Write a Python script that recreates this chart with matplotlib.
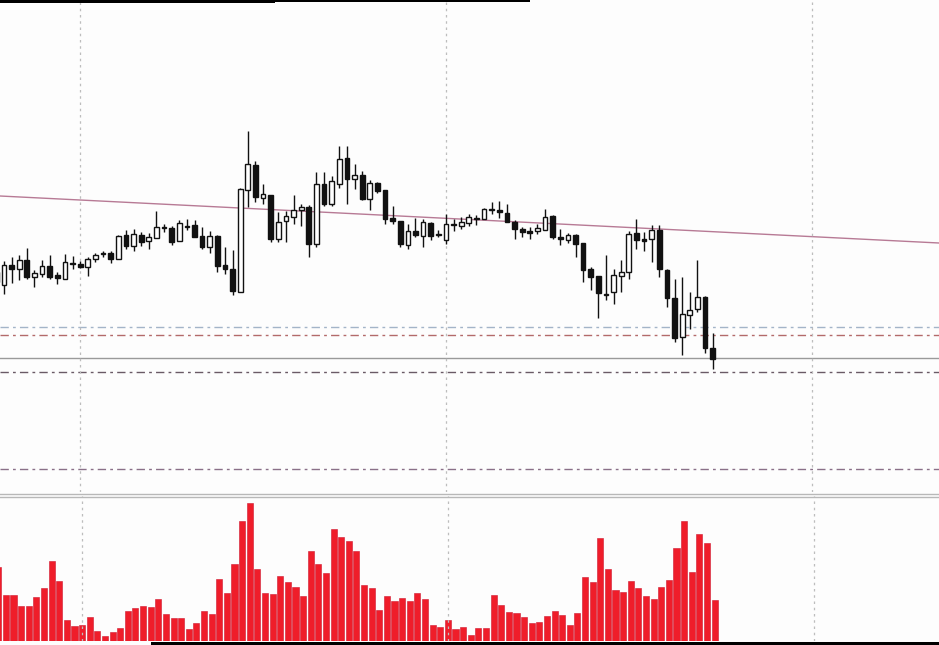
import numpy as np
import matplotlib.pyplot as plt
from matplotlib.lines import Line2D
from matplotlib.patches import Rectangle

# candle data (price units, one entry per bar)
opens = [228, 215, 235, 231, 240, 223.5, 226, 234.5, 225.5, 221.5,
         236.5, 236.5, 233.5, 241.5, 246.5, 247.5, 241.5, 265, 254, 265.5,
         259, 262.5, 272.5, 272.5, 259.5, 273.5, 275.5, 264, 253.5, 264.5,
         235, 231, 208.5, 310.5, 335, 302.5, 305, 261.5, 279, 283.5,
         290, 293.5, 256.5, 316.5, 296.5, 316, 342, 321.5, 325, 301.5,
         317.5, 310, 282, 279.5, 255, 269, 264, 277.5, 265, 260.5,
         275.5, 274.5, 277, 281, 281.5, 290.5, 290.5, 287, 278.5, 271,
         269.5, 269.5, 270.5, 284, 263.5, 260.5, 265, 257.5, 231.5, 224,
         205, 208, 224, 228.5, 267.5, 261.5, 261.5, 270, 230.5, 202.5,
         163.5, 185, 191.5, 203.5, 152.5]
highs = [238, 239, 243, 245, 252, 230, 240, 245.5, 228.5, 246,
         244, 239.5, 243.5, 247.5, 249.5, 249.5, 265, 270, 271.5, 268,
         267.5, 289, 276.5, 274, 280.5, 281, 280.5, 273, 269, 265,
         253, 250, 312, 369, 339.5, 316.5, 305.5, 288, 289, 305.5,
         296.5, 295, 328, 328, 324, 354, 354, 336.5, 329.5, 320,
         318.5, 310.5, 294.5, 279.5, 276, 282, 281, 278, 270.5, 286.5,
         281.5, 283.5, 286.5, 285, 292, 298, 299.5, 296.5, 280, 273.5,
         273.5, 276.5, 291, 285, 271.5, 267.5, 266.5, 257.5, 233.5, 224.5,
         245, 231.5, 240, 269.5, 281.5, 268.5, 275, 275, 231, 221.5,
         223.5, 208.5, 240, 204, 167.5]
lows = [210, 206, 217, 220, 221, 213, 223, 221.5, 216.5, 221,
        231.5, 232, 224, 238, 243.5, 237, 241, 251, 249, 254,
        251.5, 262, 268.5, 255.5, 259, 270, 263, 251.5, 247, 228,
        226, 205, 208, 293, 298, 296, 258.5, 258, 258.5, 276.5,
        274.5, 243.5, 253.5, 294, 294, 312, 296.5, 311.5, 300, 290,
        307, 276.5, 276.5, 253.5, 251.5, 263, 253.5, 260, 263.5, 256.5,
        269, 271, 274, 275, 281.5, 286.5, 282.5, 278, 261.5, 263,
        261.5, 266, 270, 261, 255.5, 257, 243.5, 218.5, 210, 182.5,
        200, 196, 208.5, 221.5, 251.5, 249.5, 238.5, 223.5, 193.5, 158.5,
        145, 171.5, 188.5, 147.5, 131.5]
closes = [218, 235, 231, 240, 223, 227, 234.5, 223.5, 222.5, 238.5,
          236, 233.5, 241, 245.5, 247, 241.5, 264.5, 254, 266.5, 258.5,
          263.5, 273, 273.5, 258, 277, 274.5, 263.5, 253, 264.5, 234.5,
          231, 209, 311, 336.5, 303.5, 306, 261.5, 278, 284, 290,
          293.5, 256.5, 316.5, 296, 319, 341.5, 321.5, 325, 301, 317.5,
          309.5, 281.5, 279, 256, 269.5, 265, 278.5, 264, 266.5, 276,
          276.5, 278.5, 283.5, 282, 291, 291, 288.5, 278.5, 271, 268,
          267, 272.5, 283.5, 263.5, 261.5, 265.5, 256.5, 230.5, 223.5, 207,
          206.5, 225, 228.5, 266.5, 260, 259.5, 270, 231.5, 202.5, 162.5,
          186.5, 190.5, 203.5, 152.5, 141.5]
volumes = [223, 137, 137, 105, 105, 131, 160, 240, 180, 62,
           45, 48, 72, 29, 15, 26, 40, 89, 98, 106,
           101, 127, 81, 69, 69, 37, 53, 89, 82, 187,
           144, 230, 360, 413, 217, 145, 142, 194, 177, 162,
           134, 269, 231, 205, 337, 312, 300, 269, 167, 158,
           93, 135, 120, 130, 121, 144, 127, 48, 42, 62,
           35, 42, 19, 39, 39, 139, 108, 87, 85, 73,
           54, 56, 74, 91, 77, 49, 84, 191, 177, 309,
           215, 152, 146, 180, 158, 135, 127, 163, 184, 278,
           361, 206, 322, 293, 122]

trend_line = [304, 257]          # value at left and right edge
levels = [173, 165.5, 142, 128, 31.5]
grid_bars = [11, 59, 107]

level_colors = ['#a3b4c8', '#b36a6a', '#9a9a9a', '#6a5a66', '#8a7088']
level_styles = [(0, (6, 3, 2, 3)), (0, (6, 3, 2, 3)), '-', (0, (6, 3, 2, 3)), (0, (6, 3, 2, 3))]

W, H = 939, 645
fig = plt.figure(figsize=(W / 100, H / 100), dpi=100)
fig.patch.set_facecolor('#fdfdfd')

ax = fig.add_axes([0, 1 - 492 / H, 1, 492 / H])
axv = fig.add_axes([0, 4 / H, 1, 145 / H])

x = np.arange(len(opens))
o = np.array(opens); c = np.array(closes)
xlim = (0.475, 123.7)

for a in (ax, axv):
    a.set_facecolor('#fdfdfd')
    for s in a.spines.values():
        s.set_visible(False)
    a.set_xticks(grid_bars)
    a.set_yticks([])
    a.tick_params(length=0, labelbottom=False)
    a.grid(axis='x', color='#bdbdbd', ls=(0, (2, 3)), lw=0.9)

ax.set_xlim(*xlim)
axv.set_xlim(xlim[0] - 0.25, xlim[1] - 0.25)   # lower panel sits a touch right in the shot
ax.set_ylim(8, 500)
axv.set_ylim(0, 435)

# trend line and levels
ax.plot(xlim, trend_line, color='#b77a95', lw=1, zorder=1)
for v, col, ls in zip(levels, level_colors, level_styles):
    ax.axhline(v, color=col, ls=ls, lw=1, zorder=1)

# candles
up = c >= o
ax.vlines(x, lows, highs, color='#111111', lw=1, zorder=2)
bottom = np.minimum(o, c)
height = np.maximum(np.abs(c - o), 0.8)
ax.bar(x, height, bottom=bottom, width=0.62,
       color=np.where(up, 'white', '#111111'), edgecolor='#111111', lw=1, zorder=3)

# volume
axv.bar(x, volumes, width=0.8, color='#ef1d2a', edgecolor='#d01830', lw=0.4)

# panel separator and photo edges
for yy in (494, 496.5):
    fig.add_artist(Line2D([0, 1], [1 - yy / H] * 2, color='#b8b8b8', lw=1))
fig.add_artist(Rectangle((0, 1 - 3 / H), 275 / W, 3 / H, color='black', lw=0))
fig.add_artist(Rectangle((275 / W, 1 - 1.5 / H), 255 / W, 1.5 / H, color='black', lw=0))
fig.add_artist(Rectangle((151 / W, 0), 1, 3 / H, color='black', lw=0))

fig.savefig('out.png', dpi=100, facecolor=fig.get_facecolor())
